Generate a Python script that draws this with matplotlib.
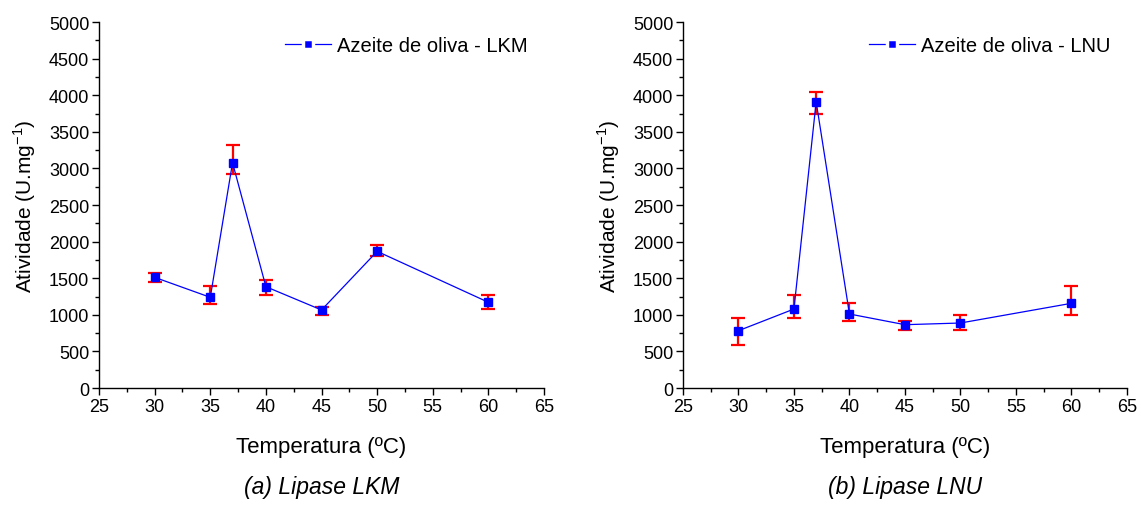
import matplotlib
matplotlib.use("Agg")
import matplotlib.pyplot as plt
from matplotlib.ticker import MultipleLocator
from matplotlib.lines import Line2D

plt.rcParams['font.family'] = ['Liberation Sans', 'DejaVu Sans']
plt.rcParams['mathtext.fontset'] = 'custom'
plt.rcParams['mathtext.rm'] = 'Liberation Sans'

temps = [30, 35, 37, 40, 45, 50, 60]

lkm = [1512, 1239, 3078, 1384, 1066, 1867, 1171]
lkm_lo = [60, 85, 155, 109, 65, 68, 96]
lkm_hi = [60, 156, 241, 91, 45, 86, 104]

lnu = [783, 1079, 3911, 1011, 865, 888, 1157]
lnu_lo = [191, 123, 173, 96, 69, 92, 156]
lnu_hi = [173, 196, 128, 146, 46, 113, 241]

panels = [
    (lkm, lkm_lo, lkm_hi, 'Azeite de oliva - LKM', '(a) Lipase LKM', [0.0868, 0.2312, 0.390, 0.7233]),
    (lnu, lnu_lo, lnu_hi, 'Azeite de oliva - LNU', '(b) Lipase LNU', [0.5986, 0.2312, 0.389, 0.7233]),
]

fig = plt.figure(figsize=(11.41, 5.06), dpi=100)

for vals, lo, hi, name, caption, pos in panels:
    ax = fig.add_axes(pos)
    ax.errorbar(temps, vals, yerr=[lo, hi], fmt='none', ecolor='red', elinewidth=1.6,
                capsize=5, capthick=1.6, zorder=2)
    ax.plot(temps, vals, color='blue', lw=0.9, marker='s', ms=5.5, mfc='blue', mec='blue', zorder=3)
    ax.set_xlim(25, 65)
    ax.set_ylim(0, 5000)
    ax.xaxis.set_major_locator(MultipleLocator(5))
    ax.xaxis.set_minor_locator(MultipleLocator(2.5))
    ax.yaxis.set_major_locator(MultipleLocator(500))
    ax.yaxis.set_minor_locator(MultipleLocator(250))
    ax.tick_params(which='major', direction='out', length=5, width=1.0, labelsize=13, pad=2)
    ax.tick_params(which='minor', direction='out', length=3, width=1.0)
    for s in ['top', 'right']:
        ax.spines[s].set_visible(False)
    for s in ['left', 'bottom']:
        ax.spines[s].set_linewidth(1.0)
    ax.set_xlabel('Temperatura (ºC)', fontsize=16, labelpad=15)
    ax.set_ylabel('Atividade (U.mg$^{-1}$)', fontsize=15, labelpad=8)
    # legend handle: line - marker - line with small gaps like Origin
    handle = Line2D([], [], color='blue', lw=0.9, marker='s', ms=7.5, mfc='blue',
                    mec='white', mew=2.5)
    ax.legend([handle], [name], loc='upper right', frameon=False, fontsize=14.5,
              handlelength=2.3, handletextpad=0.3, borderaxespad=0.3,
              bbox_to_anchor=(0.995, 1.0))
    ax.text(0.5, -0.268, caption, transform=ax.transAxes, ha='center', va='center',
            fontsize=16.5, style='italic')

fig.savefig('out.png', dpi=100)
